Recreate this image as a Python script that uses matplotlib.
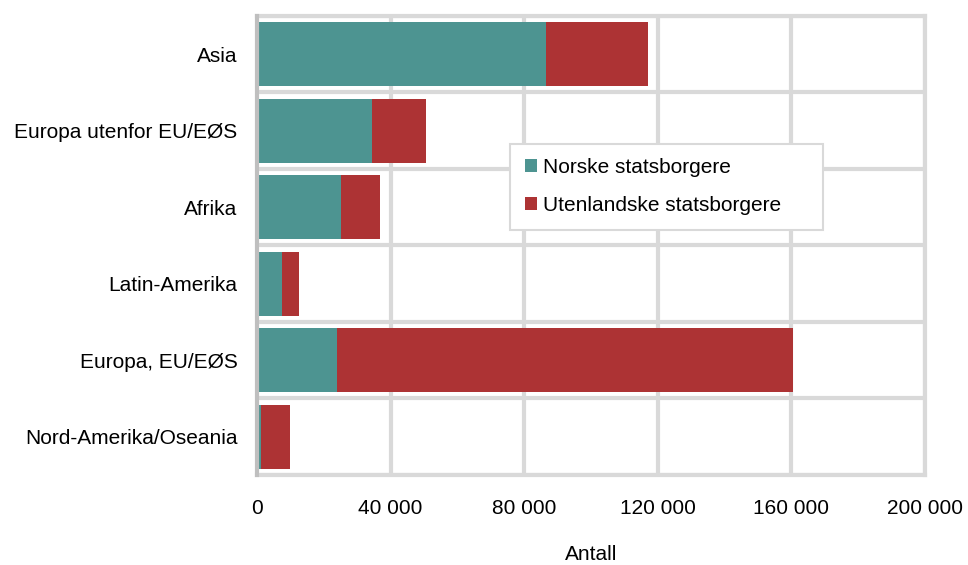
import numpy as np
import matplotlib.pyplot as plt

plt.rcParams['font.family'] = ['Liberation Sans', 'DejaVu Sans']

regions = ["Asia", "Europa utenfor EU/EØS", "Afrika", "Latin-Amerika",
           "Europa, EU/EØS", "Nord-Amerika/Oseania"]
norske = [86500, 34500, 25200, 7600, 23900, 1300]
utenlandske = [30700, 16100, 11700, 5100, 136500, 8600]
xticks = [0, 40000, 80000, 120000, 160000, 200000]
xticklabels = ["0", "40 000", "80 000", "120 000", "160 000", "200 000"]

teal = '#4d9491'
red = '#ad3334'
grid = '#d9d9d9'

fig = plt.figure(figsize=(9.68, 5.65), dpi=100)
ax = fig.add_axes([0.2655, 0.1593, 0.6901, 0.8124])

y = np.arange(len(regions))
ax.barh(y, norske, height=0.84, color=teal, label="Norske statsborgere", zorder=3)
ax.barh(y, utenlandske, left=norske, height=0.84, color=red,
        label="Utenlandske statsborgere", zorder=3)

ax.set_xlim(0, 200000)
ax.set_ylim(len(regions) - 0.5, -0.5)
ax.set_yticks(y)
ax.set_yticklabels(regions, fontsize=15)
ax.set_xticks(xticks)
ax.set_xticklabels(xticklabels, fontsize=15)
ax.tick_params(axis='both', length=0)
ax.tick_params(axis='y', pad=14)
ax.tick_params(axis='x', pad=17)

# grid lines: vertical at ticks, horizontal between categories
for xv in xticks[1:]:
    ax.axvline(xv, color=grid, lw=3, zorder=1)
for yv in np.arange(-0.5, len(regions), 1.0):
    ax.axhline(yv, color=grid, lw=3, zorder=1)

for side in ['top', 'right', 'bottom']:
    ax.spines[side].set_color(grid)
    ax.spines[side].set_linewidth(3)
ax.spines['left'].set_color('#bfbfbf')
ax.spines['left'].set_linewidth(3)
ax.spines['left'].set_zorder(4)

ax.set_xlabel("Antall", fontsize=15, labelpad=20)

leg = ax.legend(loc='upper left', bbox_to_anchor=(0.3787, 0.712, 0.4686, 0.01),
                mode='expand', fontsize=15,
                frameon=True, fancybox=False, handlelength=0.6, handleheight=0.6,
                handletextpad=0.3, labelspacing=0.9, borderpad=0.7,
                borderaxespad=0)
leg.get_frame().set_edgecolor(grid)
leg.get_frame().set_linewidth(1.5)
leg.get_frame().set_alpha(1)

fig.savefig("out.png", dpi=100)
